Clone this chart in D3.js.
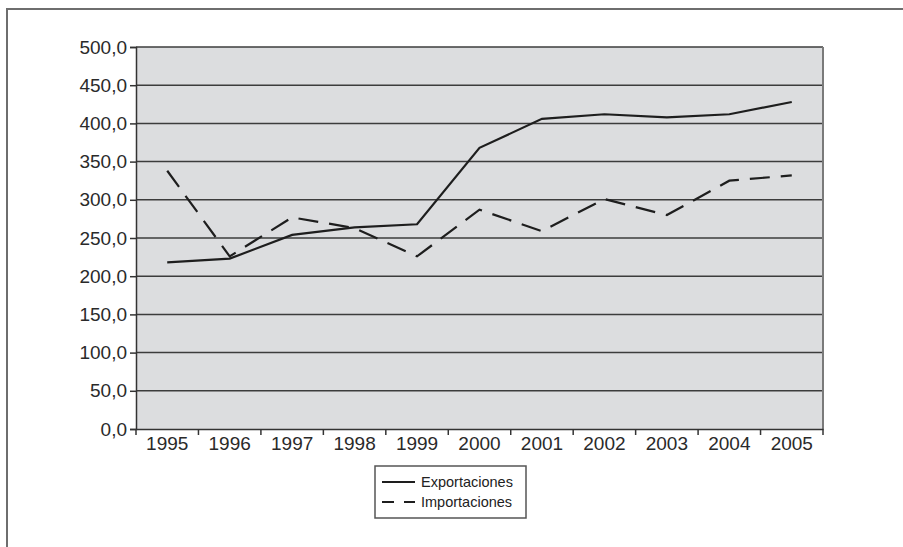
<!DOCTYPE html>
<html>
<head>
<meta charset="utf-8">
<script src="https://cdn.jsdelivr.net/npm/d3@7"></script>
<style>
  body { margin: 0; background: #fff; }
  svg { display: block; }
</style>
</head>
<body>
<svg id="chart" width="903" height="547"></svg>
<script>
// data
var years = ["1995","1996","1997","1998","1999","2000","2001","2002","2003","2004","2005"];
var exportaciones = [218, 223, 254, 264, 268, 368, 406, 412, 408, 412, 428];
var importaciones = [338, 226, 277, 263, 226, 287, 259, 301, 280, 325, 332];
var yTicks = [0, 50, 100, 150, 200, 250, 300, 350, 400, 450, 500];

var svg = d3.select("#chart");
var font = "'Liberation Sans', Arial, sans-serif";

// outer frame (runs off the right/bottom edge like the scan)
svg.append("rect")
    .attr("x", 7).attr("y", 9)
    .attr("width", 1000).attr("height", 1000)
    .attr("fill", "none").attr("stroke", "#6e6e6e").attr("stroke-width", 2);

// plot box (window.top is read-only, so no "top" here)
var plotL = 136, plotR = 823, plotT = 47, plotB = 429;

var x = d3.scaleBand().domain(years).range([plotL, plotR]);
var y = d3.scaleLinear().domain([0, 500]).range([plotB, plotT]);

// plot background
svg.append("rect")
    .attr("x", plotL).attr("y", plotT)
    .attr("width", plotR - plotL).attr("height", plotB - plotT)
    .attr("fill", "#dcdddf");

// gridlines
svg.append("g").selectAll("line")
    .data(yTicks.filter(function(d) { return d > 0; }))
    .enter().append("line")
    .attr("x1", plotL).attr("x2", plotR)
    .attr("y1", function(d) { return y(d); })
    .attr("y2", function(d) { return y(d); })
    .attr("stroke", "#3c3c3c").attr("stroke-width", 1.5);

// right border of plot
svg.append("line")
    .attr("x1", plotR).attr("x2", plotR)
    .attr("y1", plotT).attr("y2", plotB)
    .attr("stroke", "#7a7a7a").attr("stroke-width", 2);

// y axis
var yAxis = svg.append("g")
    .attr("transform", "translate(" + plotL + ",0)")
    .call(d3.axisLeft(y).tickValues(yTicks).tickSize(6).tickPadding(3)
        .tickFormat(function(d) { return d3.format(".1f")(d).replace(".", ","); }));

// x axis: ticks between categories
var xAxis = svg.append("g")
    .attr("transform", "translate(0," + plotB + ")")
    .call(d3.axisBottom(x).tickSize(0).tickPadding(6));
xAxis.selectAll(".boundary")
    .data(d3.range(years.length + 1))
    .enter().append("line")
    .attr("class", "boundary")
    .attr("x1", function(i) { return plotL + i * x.step(); })
    .attr("x2", function(i) { return plotL + i * x.step(); })
    .attr("y1", 0).attr("y2", 6)
    .attr("stroke", "#333").attr("stroke-width", 1.5);

[yAxis, xAxis].forEach(function(a) {
    a.select(".domain").attr("stroke", "#333").attr("stroke-width", 1.5);
    a.selectAll(".tick line").attr("stroke", "#333").attr("stroke-width", 1.5);
    a.selectAll("text")
        .attr("fill", "#2a2a2a")
        .style("font-family", font)
        .style("font-size", "19px");
});
xAxis.selectAll(".tick text").attr("dy", "0.8em");

// lines
var line = d3.line()
    .x(function(d, i) { return x(years[i]) + x.bandwidth() / 2; })
    .y(function(d) { return y(d); });

svg.append("path")
    .datum(exportaciones)
    .attr("d", line)
    .attr("fill", "none").attr("stroke", "#1e1e1e").attr("stroke-width", 2.2);

svg.append("path")
    .datum(importaciones)
    .attr("d", line)
    .attr("fill", "none").attr("stroke", "#1e1e1e").attr("stroke-width", 2.2)
    .attr("stroke-dasharray", "20,11");

// legend
var lg = svg.append("g").attr("transform", "translate(375,466)");
lg.append("rect")
    .attr("width", 151).attr("height", 52)
    .attr("fill", "#fff").attr("stroke", "#555").attr("stroke-width", 1.5);

var series = [
    { name: "Exportaciones", dash: null },
    { name: "Importaciones", dash: "12,10" }
];
var rows = lg.selectAll(".row").data(series).enter().append("g")
    .attr("transform", function(d, i) { return "translate(0," + (16 + i * 20) + ")"; });
rows.append("line")
    .attr("x1", 7).attr("x2", 40).attr("y1", 0).attr("y2", 0)
    .attr("stroke", "#1e1e1e").attr("stroke-width", 2.2)
    .attr("stroke-dasharray", function(d) { return d.dash; });
rows.append("text")
    .attr("x", 46).attr("dy", "0.35em")
    .attr("fill", "#222")
    .style("font-family", font)
    .style("font-size", "14.5px")
    .text(function(d) { return d.name; });
</script>
</body>
</html>
